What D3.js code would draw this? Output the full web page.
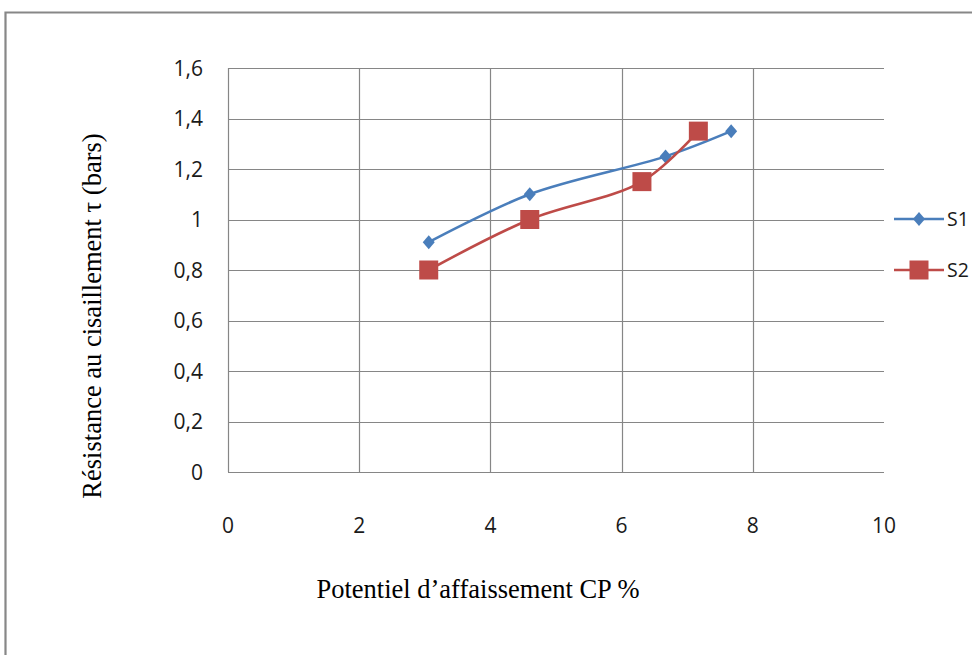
<!DOCTYPE html>
<html>
<head>
<meta charset="utf-8">
<script src="https://d3js.org/d3.v7.min.js"></script>
<style>
  html, body { margin: 0; padding: 0; background: #fff; }
  svg { display: block; }
</style>
</head>
<body>
<svg id="chart" width="972" height="655"></svg>
<script>
const seriesNames = ["S1", "S2"];
const s1X = [3.06, 4.60, 6.67, 7.67];
const s1Y = [0.91, 1.10, 1.25, 1.35];
const s2X = [3.06, 4.60, 6.31, 7.17];
const s2Y = [0.80, 1.00, 1.15, 1.35];
const xTicks = [0, 2, 4, 6, 8, 10];
const yTicks = [0, 0.2, 0.4, 0.6, 0.8, 1, 1.2, 1.4, 1.6];
const xTitle = "Potentiel d\u2019affaissement CP %";
const yTitle = "Résistance au cisaillement \u03c4 (bars)";

const svg = d3.select("#chart");
const W = 972, H = 655;
const tickFont = "'Open Sans', 'DejaVu Sans', sans-serif";
const titleFont = "'Liberation Serif', 'DejaVu Serif', serif";

// outer frame (continues past the right/bottom edge)
svg.append("path")
    .attr("d", `M${W + 5},12.5 H5.5 V${H + 5}`)
    .attr("fill", "none")
    .attr("stroke", "#878787")
    .attr("stroke-width", 2.2);

const x = d3.scaleLinear().domain([0, 10]).range([228, 884]);
const y = d3.scaleLinear().domain([0, 1.6]).range([472, 68]);

// grid
svg.append("g").selectAll("line")
    .data(yTicks)
    .join("line")
    .attr("x1", x(0)).attr("x2", x(10))
    .attr("y1", d => Math.round(y(d)) + 0.5)
    .attr("y2", d => Math.round(y(d)) + 0.5)
    .attr("stroke", "#868686")
    .attr("stroke-width", 1.2);

svg.append("g").selectAll("line")
    .data(xTicks.filter(d => d < 10))
    .join("line")
    .attr("x1", d => Math.round(x(d)) + 0.5)
    .attr("x2", d => Math.round(x(d)) + 0.5)
    .attr("y1", y(1.6)).attr("y2", y(0))
    .attr("stroke", "#868686")
    .attr("stroke-width", 1.2);

// tick labels
const fmt = d => String(+d.toFixed(1)).replace(".", ",");
svg.append("g").selectAll("text")
    .data(yTicks)
    .join("text")
    .attr("x", 203)
    .attr("y", d => y(d) + 7.5)
    .attr("text-anchor", "end")
    .style("font-family", tickFont)
    .style("font-size", "21px")
    .attr("fill", "#1a1a1a")
    .text(fmt);

svg.append("g").selectAll("text")
    .data(xTicks)
    .join("text")
    .attr("x", d => x(d))
    .attr("y", 533)
    .attr("text-anchor", "middle")
    .style("font-family", tickFont)
    .style("font-size", "21px")
    .attr("fill", "#1a1a1a")
    .text(fmt);

// axis titles
svg.append("text")
    .attr("x", 478)
    .attr("y", 598)
    .attr("text-anchor", "middle")
    .style("font-family", titleFont)
    .style("font-size", "26.5px")
    .attr("fill", "#000")
    .text(xTitle);

svg.append("text")
    .attr("transform", "translate(101,316) rotate(-90)")
    .attr("text-anchor", "middle")
    .style("font-family", titleFont)
    .style("font-size", "26.5px")
    .attr("fill", "#000")
    .text(yTitle);

// series
const series = [
    { name: seriesNames[0], xs: s1X, ys: s1Y, color: "#4A7EBB", marker: "diamond" },
    { name: seriesNames[1], xs: s2X, ys: s2Y, color: "#BE4B48", marker: "square" }
];

const line = d3.line()
    .x(d => x(d[0]))
    .y(d => y(d[1]))
    .curve(d3.curveCatmullRom.alpha(0.5));

function drawMarker(g, type, cx, cy, color) {
    if (type === "diamond") {
        g.append("path")
            .attr("d", `M${cx},${cy - 7} L${cx + 6},${cy} L${cx},${cy + 7} L${cx - 6},${cy} Z`)
            .attr("fill", color);
    } else {
        g.append("rect")
            .attr("x", cx - 9.5).attr("y", cy - 9.5)
            .attr("width", 19).attr("height", 19)
            .attr("fill", color);
    }
}

series.forEach(s => {
    const pts = s.xs.map((v, i) => [v, s.ys[i]]);
    const g = svg.append("g");
    g.append("path")
        .attr("d", line(pts))
        .attr("fill", "none")
        .attr("stroke", s.color)
        .attr("stroke-width", 2.6);
    pts.forEach(p => drawMarker(g, s.marker, x(p[0]), y(p[1]), s.color));
});

// legend
const legY = [219, 270];
series.forEach((s, i) => {
    const g = svg.append("g");
    g.append("line")
        .attr("x1", 894).attr("x2", 944)
        .attr("y1", legY[i]).attr("y2", legY[i])
        .attr("stroke", s.color)
        .attr("stroke-width", 2.6);
    drawMarker(g, s.marker, 919, legY[i], s.color);
    g.append("text")
        .attr("x", 947)
        .attr("y", legY[i] + 7)
        .style("font-family", tickFont)
        .style("font-size", "19.5px")
        .attr("fill", "#1a1a1a")
        .text(s.name);
});
</script>
</body>
</html>
